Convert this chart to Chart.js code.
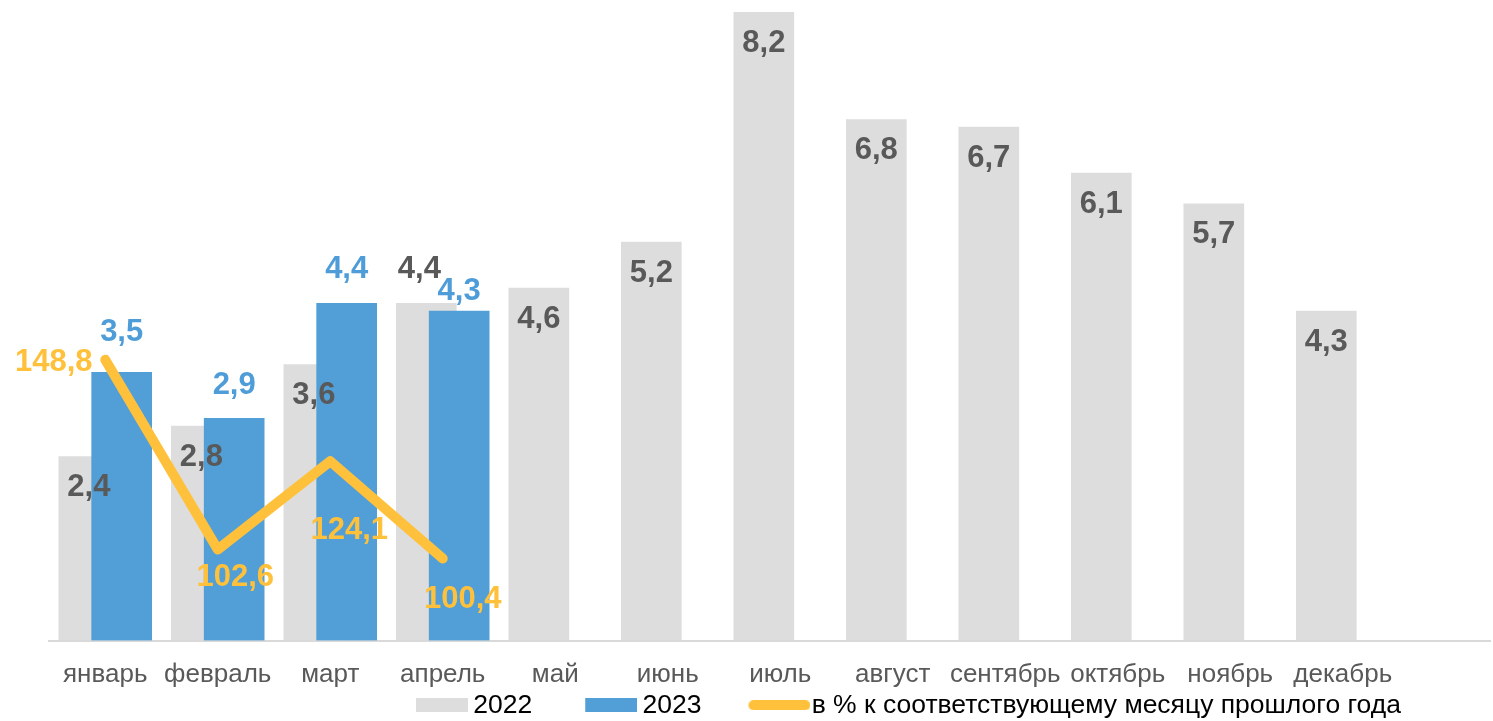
<!DOCTYPE html>
<html>
<head>
<meta charset="utf-8">
<script src="https://cdn.jsdelivr.net/npm/chart.js@4.4.0/dist/chart.umd.min.js"></script>
<style>
  html, body { margin: 0; padding: 0; background: #fff; overflow: hidden; }
  #wrap { width: 1493px; height: 721px; }
</style>
</head>
<body>
<div id="wrap"><canvas id="chart" width="1493" height="721"></canvas></div>
<script>
const months = ['январь', 'февраль', 'март', 'апрель', 'май', 'июнь', 'июль',
                'август', 'сентябрь', 'октябрь', 'ноябрь', 'декабрь'];
const values2022 = [2.4, 2.8, 3.6, 4.4, 4.6, 5.2, 8.2, 6.8, 6.7, 6.1, 5.7, 4.3];
const values2023 = [3.5, 2.9, 4.4, 4.3];
const pctPrevYear = [148.8, 102.6, 124.1, 100.4];
const seriesNames = ['2022', '2023', 'в % к соответствующему месяцу прошлого года'];

const FONT = '"Liberation Sans", Arial, sans-serif';
const GREY = '#DDDDDD';
const BLUE = '#519FD6';
const YELLOW = '#FFC13B';
const TEXT = '#595959';
const barShift = 0.146; // bars overlap inside each month

const fmt = v => v.toFixed(1).replace('.', ',');

// legend swatches as small images (rect / thick rounded line)
function swatch(imgW, imgH, x, w, color, round) {
    const c = document.createElement('canvas');
    c.width = imgW; c.height = imgH;
    const g = c.getContext('2d');
    g.fillStyle = color;
    g.beginPath();
    if (round) g.roundRect(x, 0, w, imgH, imgH / 2);
    else g.rect(x, 0, w, imgH);
    g.fill();
    return c;
}

// data labels, offsets are relative to the element (bar top / point)
const valueLabels = {
    id: 'valueLabels',
    afterDatasetsDraw(chart) {
        const ctx = chart.ctx;
        ctx.save();
        ctx.font = 'bold 31px ' + FONT;
        ctx.textAlign = 'center';
        ctx.textBaseline = 'middle';
        chart.data.datasets.forEach((ds, di) => {
            const meta = chart.getDatasetMeta(di);
            ctx.fillStyle = ds.labelColor;
            meta.data.forEach((el, i) => {
                const off = (ds.labelOffsets && ds.labelOffsets[i]) || ds.labelOffset;
                ctx.fillText(fmt(ds.values[i]), el.x + off[0], el.y + off[1]);
            });
        });
        ctx.restore();
    }
};

const legendPlace = {
    id: 'legendPlace',
    afterLayout(chart) {
        chart.legend.left = 363;
        chart.legend.top += 7.5;
        chart.scales.x.bottom = chart.height; // don't clip month descenders
    }
};

new Chart(document.getElementById('chart'), {
    type: 'bar',
    data: {
        datasets: [
            {
                type: 'line',
                label: seriesNames[2],
                values: pctPrevYear,
                data: pctPrevYear.map((v, i) => ({ x: i, y: v })),
                yAxisID: 'y2',
                borderColor: YELLOW,
                borderWidth: 10,
                borderCapStyle: 'round',
                borderJoinStyle: 'round',
                pointRadius: 0,
                fill: false,
                order: 0,
                labelColor: YELLOW,
                labelOffsets: [[-51.5, 3], [17.5, 27.5], [19, 69], [20, 41]]
            },
            {
                label: seriesNames[1],
                values: values2023,
                data: values2023.map((v, i) => ({ x: i + barShift, y: v })),
                backgroundColor: BLUE,
                barThickness: 60,
                grouped: false,
                order: 1,
                labelColor: '#4E9DD8',
                labelOffsets: [[0, -40], [0, -33], [0, -34], [0, -20]]
            },
            {
                label: seriesNames[0],
                values: values2022,
                data: values2022.map((v, i) => ({ x: i - barShift, y: v })),
                backgroundColor: GREY,
                barThickness: 60,
                grouped: false,
                order: 2,
                labelColor: TEXT,
                labelOffset: [0, 31],
                labelOffsets: { 3: [-7, -34] }
            }
        ]
    },
    options: {
        responsive: false,
        devicePixelRatio: 1,
        animation: false,
        layout: { padding: { left: 49, right: 3, top: 0, bottom: 0 } },
        scales: {
            x: {
                type: 'linear',
                min: -0.5,
                max: 12.309,
                offset: false,
                grid: { display: false, drawTicks: false },
                border: { display: true, color: '#D9D9D9', width: 2 },
                afterBuildTicks: s => { s.ticks = months.map((m, i) => ({ value: i })); },
                afterFit: s => { s.height = 44; },
                ticks: {
                    padding: 18.4,
                    color: TEXT,
                    font: { family: FONT, size: 26 },
                    maxRotation: 0,
                    autoSkip: false,
                    callback: v => months[v]
                }
            },
            y: { display: false, min: 0, max: 8.36 },
            y2: { type: 'linear', display: false, position: 'right', min: 80.47, max: 236.32 }
        },
        plugins: {
            tooltip: { enabled: false },
            legend: {
                position: 'bottom',
                align: 'start',
                labels: {
                    usePointStyle: true,
                    pointStyleWidth: 97,
                    padding: 0,
                    color: TEXT,
                    font: { family: FONT, size: 26.5 },
                    generateLabels: () => [
                        { text: seriesNames[0], pointStyle: swatch(113, 14, 61, 52, GREY, false), fillStyle: GREY, lineWidth: 0, hidden: false },
                        { text: seriesNames[1], pointStyle: swatch(113, 14, 61, 52, BLUE, false), fillStyle: BLUE, lineWidth: 0, hidden: false },
                        { text: seriesNames[2], pointStyle: swatch(121, 10, 59, 62, YELLOW, true), fillStyle: YELLOW, lineWidth: 0, hidden: false }
                    ]
                }
            }
        }
    },
    plugins: [valueLabels, legendPlace]
});
</script>
</body>
</html>
